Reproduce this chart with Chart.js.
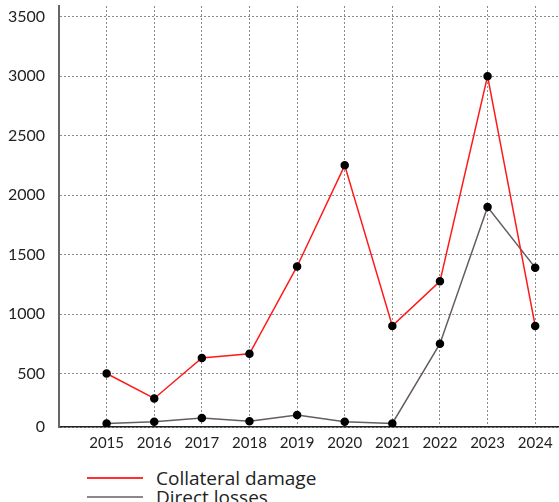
<!DOCTYPE html>
<html>
<head>
<meta charset="utf-8">
<script src="https://cdn.jsdelivr.net/npm/chart.js@4/dist/chart.umd.min.js"></script>
<style>
  body { margin: 0; background: #fff; }
  #wrap { position: relative; width: 559px; height: 502px; overflow: hidden; }
  #legend { position: absolute; left: 87px; top: 468px; font-family: "Open Sans", sans-serif; font-size: 19px; color: #222; }
  .item { display: flex; align-items: center; height: 19px; }
  .swatch { width: 56px; height: 0; border-top: 2px solid; margin-right: 13px; }
</style>
</head>
<body>
<div id="wrap">
  <canvas id="chart" width="559" height="460"></canvas>
  <div id="legend"></div>
</div>
<script>
// Values
const years = [2015, 2016, 2017, 2018, 2019, 2020, 2021, 2022, 2023, 2024];
const collateralDamage = [500, 290, 630, 665, 1400, 2250, 900, 1275, 3000, 900];
const directLosses = [80, 95, 125, 98, 150, 95, 80, 750, 1900, 1390];
const yTicks = [0, 500, 1000, 1500, 2000, 2500, 3000, 3500];

// axis starts a little above zero, the "0" label sits on the axis line
const yMin = 50;
const yMax = 3590;

const toPoints = (vals) => vals.map((v, i) => ({ x: years[i], y: v }));

const ctx = document.getElementById('chart').getContext('2d');
const chart = new Chart(ctx, {
    type: 'line',
    data: {
        datasets: [{
            label: 'Collateral damage',
            data: toPoints(collateralDamage),
            borderColor: '#ff1a1a',
            borderWidth: 1.5,
            pointRadius: 3.5,
            pointBackgroundColor: '#000',
            pointBorderColor: '#000',
            tension: 0
        }, {
            label: 'Direct losses',
            data: toPoints(directLosses),
            borderColor: '#655c5c',
            borderWidth: 1.5,
            pointRadius: 3.5,
            pointBackgroundColor: '#000',
            pointBorderColor: '#000',
            tension: 0
        }]
    },
    options: {
        responsive: false,
        animation: false,
        layout: { autoPadding: false, padding: { top: 6, right: 0, left: 0, bottom: 0 } },
        plugins: {
            legend: { display: false },
            tooltip: { enabled: false }
        },
        scales: {
            x: {
                type: 'linear',
                min: years[0] - 1,
                max: years[years.length - 1] + 0.5,
                afterBuildTicks: (scale) => {
                    scale.ticks = [years[0] - 1].concat(years).map(v => ({ value: v }));
                },
                afterFit: (scale) => {
                    scale.height = 33;
                    scale.paddingLeft = 0;
                    scale.paddingRight = 0;
                },
                ticks: {
                    padding: 7,
                    color: '#222',
                    font: { family: 'Lato', size: 15 },
                    maxRotation: 0,
                    callback: (v) => v < years[0] ? '' : String(v)
                },
                grid: { color: '#8a8a8a', lineWidth: 1, drawTicks: false },
                border: { color: '#222', width: 1.5, dash: [2, 2] }
            },
            y: {
                min: yMin,
                max: yMax,
                afterBuildTicks: (scale) => {
                    scale.ticks = yTicks.map(v => ({ value: Math.max(v, yMin) }));
                },
                afterFit: (scale) => {
                    scale.width = 59;
                    scale.paddingTop = 0;
                    scale.paddingBottom = 0;
                },
                ticks: {
                    padding: 14,
                    crossAlign: 'near',
                    color: '#222',
                    font: { family: 'Lato', size: 16 },
                    callback: (v) => v === yMin ? '0' : String(v)
                },
                grid: { color: '#8a8a8a', lineWidth: 1, drawTicks: false },
                border: { color: '#666', width: 2, dash: [2, 2] }
            }
        }
    }
});

// Legend stacked below the chart, built from the chart's own legend items
const legendEl = document.getElementById('legend');
const legendColors = ['#ff3030', '#8f8787'];
chart.options.plugins.legend.labels.generateLabels(chart).forEach((item, i) => {
    const row = document.createElement('div');
    row.className = 'item';
    const sw = document.createElement('span');
    sw.className = 'swatch';
    sw.style.borderTopColor = legendColors[i];
    const txt = document.createElement('span');
    txt.textContent = item.text;
    row.appendChild(sw);
    row.appendChild(txt);
    legendEl.appendChild(row);
});
</script>
</body>
</html>
